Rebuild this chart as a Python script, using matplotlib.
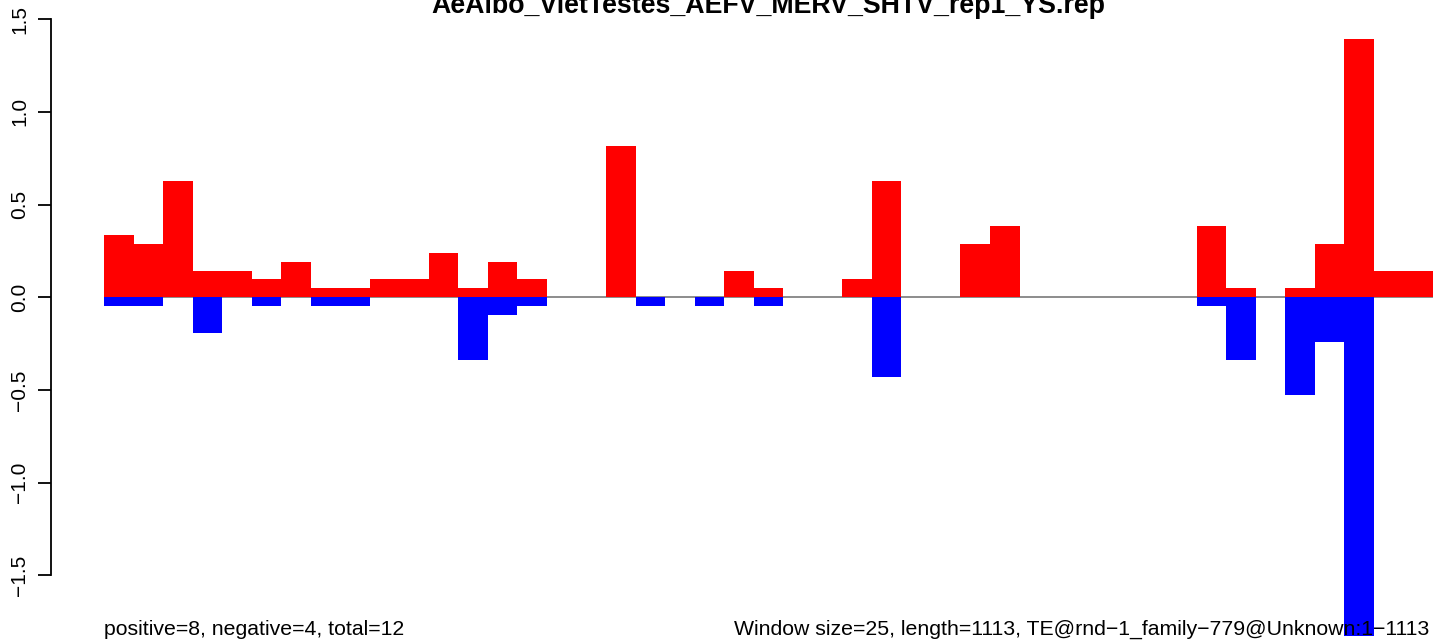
import matplotlib
matplotlib.use("Agg")
import matplotlib.pyplot as plt
import numpy as np

title = "AeAlbo_VietTestes_AEFV_MERV_SHTV_rep1_YS.rep"
left_note = "positive=8, negative=4, total=12"
right_note = "Window size=25, length=1113, TE@rnd\u22121_family\u2212779@Unknown:1\u22121113"

window_size = 25
seq_length = 1113

# values per window (45 windows)
positive = [0.337, 0.289, 0.625, 0.144, 0.144, 0.096, 0.192, 0.048, 0.048, 0.096,
            0.096, 0.240, 0.048, 0.192, 0.096, 0.0, 0.0, 0.817, 0.0, 0.0,
            0.0, 0.144, 0.048, 0.0, 0.0, 0.096, 0.625, 0.0, 0.0, 0.289,
            0.385, 0.0, 0.0, 0.0, 0.0, 0.0, 0.0, 0.385, 0.048, 0.0,
            0.048, 0.289, 1.394, 0.144, 0.144]
negative = [0.048, 0.048, 0.0, 0.192, 0.0, 0.048, 0.0, 0.048, 0.048, 0.0,
            0.0, 0.0, 0.337, 0.096, 0.048, 0.0, 0.0, 0.0, 0.048, 0.0,
            0.048, 0.0, 0.048, 0.0, 0.0, 0.0, 0.433, 0.0, 0.0, 0.0,
            0.0, 0.0, 0.0, 0.0, 0.0, 0.0, 0.0, 0.048, 0.337, 0.0,
            0.529, 0.240, 1.900, 0.0, 0.0]
yticks = [-1.5, -1.0, -0.5, 0.0, 0.5, 1.0, 1.5]

plt.rcParams['font.family'] = ['Liberation Sans', 'DejaVu Sans']

W, H = 1433, 641
fig = plt.figure(figsize=(W / 100, H / 100), dpi=100)
ax_left = 50.7 / W
ax_bottom = 5 / H
ax = fig.add_axes([ax_left, ax_bottom, 1 - ax_left, 1 - ax_bottom])

n = len(positive)
x = np.arange(n)
ax.bar(x, positive, width=1.0, align='edge', color='#ff0000', linewidth=0, zorder=2)
ax.bar(x, [-v for v in negative], width=1.0, align='edge', color='#0000ff', linewidth=0, zorder=2)
ax.hlines(0, 0, n, colors='#8c8c8c', linewidth=1.4, zorder=1)

ax.set_xlim(-1.805, n)
ax.set_ylim(-1.828, 1.604)

for s in ['top', 'right', 'bottom']:
    ax.spines[s].set_visible(False)
ax.spines['left'].set_bounds(-1.5, 1.5)
ax.spines['left'].set_linewidth(1.3)
ax.set_xticks([])
ax.set_yticks(yticks)
ax.set_yticklabels([f"{t:.1f}".replace('-', '\u2212') for t in yticks],
                   rotation=90, va='center', fontsize=15)
ax.tick_params(axis='y', length=9.5, width=1.3, pad=6)

fig.text(768 / W, 1 - 13 / H, title, ha='center', va='baseline',
         fontsize=19.3, fontweight='bold')
fig.text(104 / W, 1 - 635 / H, left_note, ha='left', va='baseline', fontsize=15.3, zorder=5)
fig.text(1429 / W, 1 - 635 / H, right_note, ha='right', va='baseline', fontsize=15.3, zorder=5)

fig.savefig("out.png", dpi=100)
